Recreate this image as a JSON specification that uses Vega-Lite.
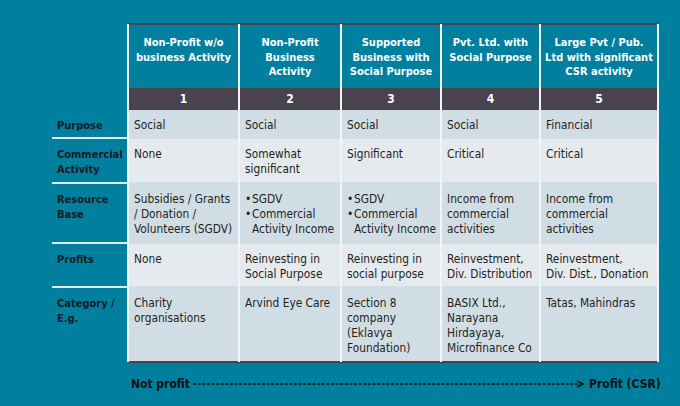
{
  "$schema": "https://vega.github.io/schema/vega-lite/v6.json",
  "width": 680,
  "height": 406,
  "autosize": "none",
  "padding": 0,
  "background": "#007f9e",
  "config": {"view": {"stroke": null}},
  "datasets": {
    "bands": [
      {"x": 128, "x2": 658, "y": 88, "y2": 109, "kind": "number"},
      {"x": 128, "x2": 658, "y": 109, "y2": 138, "kind": "shadeA"},
      {"x": 128, "x2": 658, "y": 138, "y2": 183, "kind": "shadeB"},
      {"x": 128, "x2": 658, "y": 183, "y2": 243, "kind": "shadeA"},
      {"x": 128, "x2": 658, "y": 243, "y2": 287, "kind": "shadeB"},
      {"x": 128, "x2": 658, "y": 287, "y2": 362, "kind": "shadeA"}
    ],
    "hlines": [
      {"x": 128, "x2": 658, "y": 24, "kind": "white"},
      {"x": 128, "x2": 658, "y": 109, "kind": "white"},
      {"x": 128, "x2": 658, "y": 138, "kind": "blue"},
      {"x": 128, "x2": 658, "y": 183, "kind": "blue"},
      {"x": 128, "x2": 658, "y": 243, "kind": "blue"},
      {"x": 128, "x2": 658, "y": 287, "kind": "blue"},
      {"x": 128, "x2": 658, "y": 362, "kind": "white"},
      {"x": 52, "x2": 128, "y": 138, "kind": "label"},
      {"x": 52, "x2": 128, "y": 183, "kind": "label"},
      {"x": 52, "x2": 128, "y": 243, "kind": "label"},
      {"x": 52, "x2": 128, "y": 287, "kind": "label"}
    ],
    "vlines": [
      {"x": 128, "y": 24, "y2": 362},
      {"x": 239, "y": 24, "y2": 362},
      {"x": 341, "y": 24, "y2": 362},
      {"x": 441, "y": 24, "y2": 362},
      {"x": 540, "y": 24, "y2": 362},
      {"x": 658, "y": 24, "y2": 362}
    ],
    "headers": [
      {"x": 183.5, "y": 24, "text": "Non-Profit w/o\nbusiness Activity"},
      {"x": 290, "y": 24, "text": "Non-Profit\nBusiness\nActivity"},
      {"x": 391, "y": 24, "text": "Supported\nBusiness with\nSocial Purpose"},
      {"x": 490.5, "y": 24, "text": "Pvt. Ltd. with\nSocial Purpose"},
      {"x": 599, "y": 24, "text": "Large Pvt / Pub.\nLtd with significant\nCSR activity"}
    ],
    "numbers": [
      {"x": 183.5, "y": 98.5, "text": "1"},
      {"x": 290, "y": 98.5, "text": "2"},
      {"x": 391, "y": 98.5, "text": "3"},
      {"x": 490.5, "y": 98.5, "text": "4"},
      {"x": 599, "y": 98.5, "text": "5"}
    ],
    "labels": [
      {"x": 52, "y": 109, "text": "Purpose"},
      {"x": 52, "y": 138, "text": "Commercial\nActivity"},
      {"x": 52, "y": 183, "text": "Resource\nBase"},
      {"x": 52, "y": 243, "text": "Profits"},
      {"x": 52, "y": 287, "text": "Category /\nE.g."}
    ],
    "cells": [
      {"x": 128, "y": 109, "text": "Social"},
      {"x": 239, "y": 109, "text": "Social"},
      {"x": 341, "y": 109, "text": "Social"},
      {"x": 441, "y": 109, "text": "Social"},
      {"x": 540, "y": 109, "text": "Financial"},
      {"x": 128, "y": 138, "text": "None"},
      {"x": 239, "y": 138, "text": "Somewhat\nsignificant"},
      {"x": 341, "y": 138, "text": "Significant"},
      {"x": 441, "y": 138, "text": "Critical"},
      {"x": 540, "y": 138, "text": "Critical"},
      {"x": 128, "y": 183, "text": "Subsidies / Grants\n/ Donation /\nVolunteers (SGDV)"},
      {"x": 441, "y": 183, "text": "Income from\ncommercial\nactivities"},
      {"x": 540, "y": 183, "text": "Income from\ncommercial\nactivities"},
      {"x": 128, "y": 243, "text": "None"},
      {"x": 239, "y": 243, "text": "Reinvesting in\nSocial Purpose"},
      {"x": 341, "y": 243, "text": "Reinvesting in\nsocial purpose"},
      {"x": 441, "y": 243, "text": "Reinvestment,\nDiv. Distribution"},
      {"x": 540, "y": 243, "text": "Reinvestment,\nDiv. Dist., Donation"},
      {"x": 128, "y": 287, "text": "Charity\norganisations"},
      {"x": 239, "y": 287, "text": "Arvind Eye Care"},
      {"x": 341, "y": 287, "text": "Section 8\ncompany\n(Eklavya\nFoundation)"},
      {"x": 441, "y": 287, "text": "BASIX Ltd.,\nNarayana\nHirdayaya,\nMicrofinance Co"},
      {"x": 540, "y": 287, "text": "Tatas, Mahindras"}
    ],
    "bulleted": [
      {"x": 239, "y": 183, "text": "SGDV\nCommercial\nActivity Income", "bullet": "•\n•"},
      {"x": 341, "y": 183, "text": "SGDV\nCommercial\nActivity Income", "bullet": "•\n•"}
    ],
    "footer": [
      {"x": 131, "y": 384, "text": "Not profit"},
      {"x": 576, "y": 384, "text": ">"},
      {"x": 589, "y": 384, "text": "Profit (CSR)"}
    ],
    "arrow": [
      {"x": 193, "x2": 581, "y": 384}
    ]
  },
  "encoding": {
    "x": {"field": "x", "type": "quantitative", "scale": {"domain": [0, 680]}, "axis": null},
    "y": {"field": "y", "type": "quantitative", "scale": {"domain": [0, 406], "reverse": true}, "axis": null}
  },
  "layer": [
    {
      "data": {"name": "bands"},
      "mark": {"type": "rect"},
      "encoding": {
        "x2": {"field": "x2"},
        "y2": {"field": "y2"},
        "color": {"field": "kind", "type": "nominal", "legend": null,
          "scale": {"domain": ["number", "shadeA", "shadeB"], "range": ["#48434f", "#d1dde5", "#e5eaee"]}}
      }
    },
    {
      "data": {"name": "hlines"},
      "mark": {"type": "rule", "strokeWidth": 2},
      "encoding": {
        "x2": {"field": "x2"},
        "color": {"field": "kind", "type": "nominal", "legend": null,
          "scale": {"domain": ["white", "blue", "label"], "range": ["#f2f5f7", "#a6c2d2", "#b7d2de"]}}
      }
    },
    {
      "data": {"name": "vlines"},
      "mark": {"type": "rule", "strokeWidth": 2, "color": "#f2f5f7"},
      "encoding": {"y2": {"field": "y2"}}
    },
    {
      "data": {"name": "headers"},
      "mark": {"type": "text", "align": "center", "baseline": "alphabetic", "dy": 22, "lineHeight": 14.5, "lineBreak": "\n",
        "font": "DejaVu Sans Condensed, sans-serif", "fontWeight": "bold", "fontSize": 11, "color": "#ffffff"},
      "encoding": {"text": {"field": "text"}}
    },
    {
      "data": {"name": "numbers"},
      "mark": {"type": "text", "align": "center", "baseline": "middle",
        "font": "DejaVu Sans Condensed, sans-serif", "fontWeight": "bold", "fontSize": 12, "color": "#ffffff"},
      "encoding": {"text": {"field": "text"}}
    },
    {
      "data": {"name": "labels"},
      "mark": {"type": "text", "align": "left", "baseline": "alphabetic", "dx": 5, "dy": 20, "lineHeight": 15, "lineBreak": "\n",
        "font": "DejaVu Sans Condensed, sans-serif", "fontWeight": "bold", "fontSize": 11, "color": "#1a1a1f"},
      "encoding": {"text": {"field": "text"}}
    },
    {
      "data": {"name": "cells"},
      "mark": {"type": "text", "align": "left", "baseline": "alphabetic", "dx": 6, "dy": 20, "lineHeight": 15, "lineBreak": "\n",
        "font": "DejaVu Sans Condensed, sans-serif", "fontSize": 11.8, "color": "#231f20"},
      "encoding": {"text": {"field": "text"}}
    },
    {
      "data": {"name": "bulleted"},
      "mark": {"type": "text", "align": "left", "baseline": "alphabetic", "dx": 13, "dy": 20, "lineHeight": 15, "lineBreak": "\n",
        "font": "DejaVu Sans Condensed, sans-serif", "fontSize": 11.8, "color": "#231f20"},
      "encoding": {"text": {"field": "text"}}
    },
    {
      "data": {"name": "bulleted"},
      "mark": {"type": "text", "align": "left", "baseline": "alphabetic", "dx": 6, "dy": 20, "lineHeight": 15, "lineBreak": "\n",
        "font": "DejaVu Sans Condensed, sans-serif", "fontSize": 11.8, "color": "#231f20"},
      "encoding": {"text": {"field": "bullet"}}
    },
    {
      "data": {"name": "arrow"},
      "mark": {"type": "rule", "strokeWidth": 1.3, "strokeDash": [3, 1.6], "color": "#111111"},
      "encoding": {"x2": {"field": "x2"}}
    },
    {
      "data": {"name": "footer"},
      "mark": {"type": "text", "align": "left", "baseline": "middle",
        "font": "DejaVu Sans Condensed, sans-serif", "fontWeight": "bold", "fontSize": 12, "color": "#111111"},
      "encoding": {"text": {"field": "text"}}
    }
  ]
}
